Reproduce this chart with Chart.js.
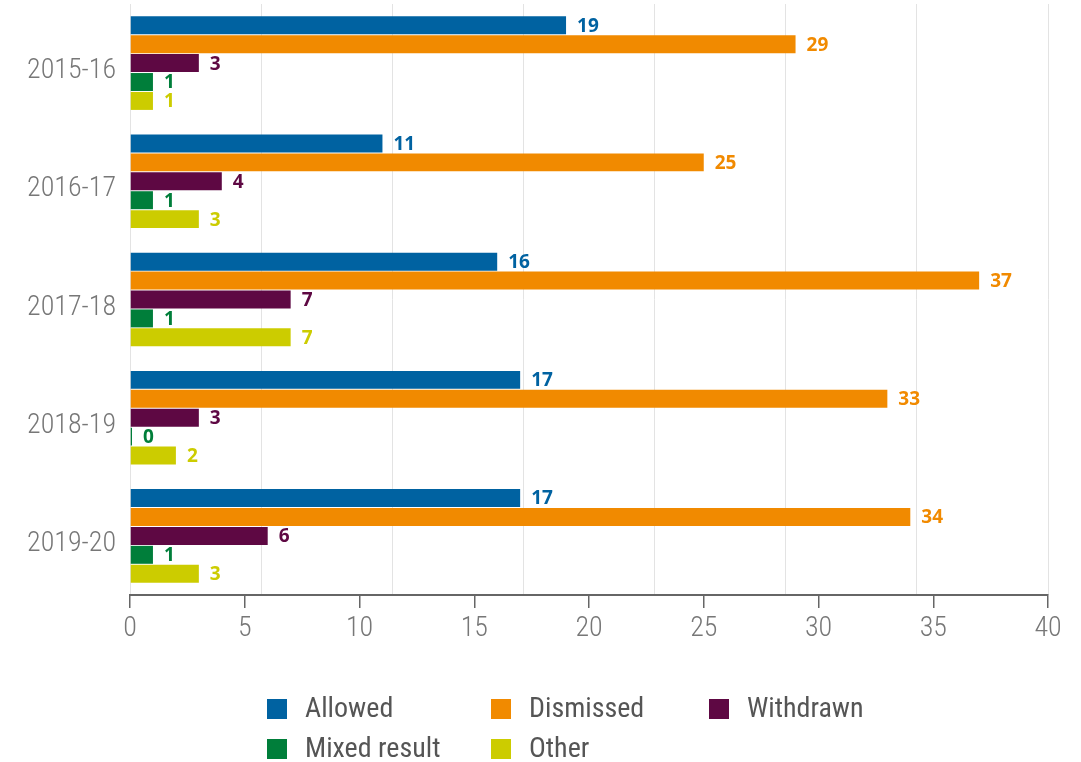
<!DOCTYPE html>
<html>
<head>
<meta charset="utf-8">
<script src="https://cdn.jsdelivr.net/npm/chart.js@4/dist/chart.umd.min.js"></script>
<style>
  html, body { margin: 0; padding: 0; background: #fff; }
  #wrap { width: 1081px; height: 762px; position: relative; }
</style>
</head>
<body>
<div id="wrap"><canvas id="c" width="1081" height="762"></canvas></div>
<script>
// Appeal outcomes by year
const categories = ['2015-16', '2016-17', '2017-18', '2018-19', '2019-20'];
const allowed     = [19, 11, 16, 17, 17];
const dismissed   = [29, 25, 37, 33, 34];
const withdrawn   = [3, 4, 7, 3, 6];
const mixedResult = [1, 1, 1, 0, 1];
const other       = [1, 3, 7, 2, 3];
const seriesNames = ['Allowed', 'Dismissed', 'Withdrawn', 'Mixed result', 'Other'];
const seriesColors = ['#0062a1', '#f18a00', '#5e0843', '#007e3a', '#cccc00'];
const xTickLabels = ['0', '5', '10', '15', '20', '25', '30', '35', '40'];

const NARROW = "'Roboto Condensed', 'Open Sans', sans-serif";
const BOLD = "'Open Sans', 'Lato', sans-serif";

const seriesValues = [allowed, dismissed, withdrawn, mixedResult, other];
const datasets = seriesNames.map((name, i) => ({
  label: name,
  data: seriesValues[i],
  backgroundColor: seriesColors[i],
  borderWidth: 0,
  minBarLength: 2,
  categoryPercentage: 0.8,
  barPercentage: 0.95
}));

// Value written just past the end of each bar, in the bar's colour
const valueLabels = {
  id: 'valueLabels',
  afterDatasetsDraw(chart) {
    const ctx = chart.ctx;
    ctx.save();
    ctx.font = "bold 19px " + BOLD;
    ctx.textAlign = 'left';
    ctx.textBaseline = 'middle';
    chart.data.datasets.forEach((ds, di) => {
      const meta = chart.getDatasetMeta(di);
      meta.data.forEach((bar, i) => {
        ctx.fillStyle = ds.backgroundColor;
        ctx.fillText(String(ds.data[i]), bar.x + 11, bar.y + 1);
      });
    });
    ctx.restore();
  }
};

// Legend laid out as a three-column grid under the axis
const gridLegend = {
  id: 'gridLegend',
  afterDraw(chart) {
    const ctx = chart.ctx;
    const cols = [267, 491, 709];
    const rows = [699, 739];
    ctx.save();
    ctx.font = "400 28px " + NARROW;
    ctx.textAlign = 'left';
    ctx.textBaseline = 'alphabetic';
    chart.data.datasets.forEach((ds, i) => {
      const x = cols[i % 3];
      const y = rows[Math.floor(i / 3)];
      ctx.fillStyle = ds.backgroundColor;
      ctx.fillRect(x, y, 20, 20);
      ctx.fillStyle = '#555555';
      ctx.fillText(ds.label, x + 38, y + 18);
    });
    ctx.restore();
  }
};

new Chart(document.getElementById('c'), {
  type: 'bar',
  data: { labels: categories, datasets },
  plugins: [valueLabels, gridLegend],
  options: {
    indexAxis: 'y',
    responsive: false,
    animation: false,
    layout: { padding: { left: 0, right: 33, top: 4, bottom: 107 } },
    plugins: {
      legend: { display: false },
      tooltip: { enabled: false }
    },
    scales: {
      x: {
        type: 'linear',
        position: 'bottom',
        min: 0,
        max: 40,
        afterFit(scale) { scale.height = 60; },
        ticks: {
          stepSize: 5,
          padding: 4,
          color: '#777777',
          font: { family: NARROW, size: 28, weight: 300 },
          callback: (v, i) => xTickLabels[i]
        },
        grid: {
          drawOnChartArea: false,
          drawTicks: true,
          tickLength: 13,
          color: '#666666',
          lineWidth: 1.5
        },
        border: { display: true, color: '#666666', width: 2 }
      },
      xGrid: {
        type: 'linear',
        position: 'top',
        min: 0,
        max: 40,
        afterBuildTicks(scale) {
          scale.ticks = Array.from({ length: 8 }, (_, k) => ({ value: k * 40 / 7 }));
        },
        afterFit(scale) {
          scale.height = 0;
          scale.paddingLeft = 0;
          scale.paddingRight = 0;
        },
        ticks: { display: false },
        grid: { color: '#e3e3e3', lineWidth: 1, drawTicks: false },
        border: { display: false }
      },
      y: {
        afterFit(scale) {
          scale.width = 130;
          scale.paddingTop = 0;
          scale.paddingBottom = 0;
        },
        ticks: {
          padding: 14,
          labelOffset: 8,
          color: '#777777',
          font: { family: NARROW, size: 28, weight: 300 }
        },
        grid: { display: false, drawTicks: false },
        border: { display: false }
      }
    }
  }
});
</script>
</body>
</html>
